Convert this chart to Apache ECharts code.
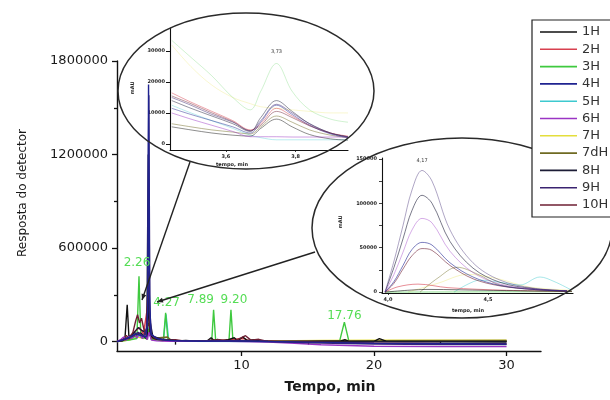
<!DOCTYPE html>
<html>
<head>
<meta charset="utf-8">
<script src="https://cdn.jsdelivr.net/npm/echarts@6/dist/echarts.min.js"></script>
<style>
html,body{margin:0;padding:0;background:#fff}
#c{width:610px;height:400px}
</style>
</head>
<body>
<div id="c"></div>
<script>
// Sample names and trace colours (legend order)
const names  = ['1H','2H','3H','4H','5H','6H','7H','7dH','8H','9H','10H'];
const colors = ['#111111','#d8404f','#3fc93f','#1f2390','#3ec9cf','#9a34c4','#e4de3c','#6f6a22','#1c1c36','#3a2370','#6e1f33'];

// Axis ticks and labels of the full chromatogram
const mainXLabels = [10, 20, 30];
const mainXMinor  = [5, 15, 25];
const mainYLabels = [0, 600000, 1200000, 1800000];
const mainYMinor  = [300000, 900000, 1500000];

// Full chromatograms: [tempo (min), resposta]
const chrom1H  = [[0.6,0],[1.0,5000],[1.2,20000],[1.37,237000],[1.5,30000],[1.7,40000],[1.9,60000],[2.1,45000],[2.4,55000],[2.7,30000],[2.88,15000],[2.98,300000],[3.08,40000],[3.4,20000],[3.8,12000],[4.3,8000],[4.8,12000],[5.2,5000],[5.8,8000],[6.5,3000],[7.4,4000],[7.7,25000],[7.95,6000],[8.2,15000],[8.5,4000],[9.0,12000],[9.45,25000],[9.7,5000],[10.1,30000],[10.4,8000],[11.0,12000],[11.4,3000],[12.5,2000],[15,1000],[17.5,4000],[17.8,12000],[18.1,2000],[20.0,2000],[20.4,20000],[20.9,3000],[24,1500],[30,1000]];
const chrom2H  = [[0.6,0],[1.2,10000],[1.6,25000],[2.0,70000],[2.3,90000],[2.6,50000],[2.95,250000],[3.1,40000],[3.5,15000],[4.5,8000],[6,4000],[8,6000],[10.2,20000],[10.6,5000],[12,3000],[20,4000],[30,4000]];
const chrom3H  = [[0.6,0],[1.5,10000],[2.1,20000],[2.26,420000],[2.4,30000],[2.8,20000],[3.0,80000],[3.2,15000],[4.1,6000],[4.27,185000],[4.45,6000],[6,3000],[7.75,4000],[7.89,205000],[8.05,4000],[9.05,5000],[9.2,205000],[9.35,5000],[12,2000],[17.4,3000],[17.76,125000],[18.1,3000],[22,2000],[30,2000]];
const chrom4H  = [[0.6,0],[1.2,15000],[1.6,30000],[2.0,50000],[2.4,40000],[2.8,30000],[2.92,200000],[2.98,1650000],[3.06,300000],[3.15,50000],[3.6,20000],[4.2,10000],[5,6000],[7,3000],[10,5000],[12,1000],[16,-5000],[20,-10000],[30,-15000]];
const chrom5H  = [[0.6,0],[1.5,15000],[2.2,40000],[2.6,25000],[3.0,90000],[3.2,15000],[4.1,8000],[4.3,175000],[4.5,8000],[6,3000],[12,1000],[20,5000],[30,6000]];
const chrom6H  = [[0.6,0],[0.9,15000],[1.1,30000],[1.3,10000],[1.5,35000],[1.7,20000],[1.9,45000],[2.1,25000],[2.3,50000],[2.5,20000],[2.7,40000],[2.9,15000],[3.0,60000],[3.2,10000],[3.6,5000],[4.5,3000],[6,2000],[9,3000],[12,-2000],[14,-10000],[16,-20000],[20,-30000],[25,-32000],[30,-32000]];
const chrom7H  = [[0.6,0],[1.5,10000],[2.2,30000],[2.6,20000],[3.0,60000],[3.3,10000],[5,4000],[12,4000],[16,8000],[20,10000],[25,10000],[30,10000]];
const chrom7dH = [[0.6,0],[1.6,20000],[2.2,50000],[2.6,30000],[3.0,120000],[3.2,20000],[4.4,30000],[4.7,8000],[6,3000],[12,2000],[16,4000],[20,6000],[30,7000]];
const chrom8H  = [[0.6,0],[1.4,25000],[1.8,50000],[2.2,90000],[2.5,70000],[2.85,60000],[2.96,1200000],[3.05,150000],[3.3,35000],[4,15000],[5,8000],[7,5000],[8,10000],[9,6000],[12,2000],[18,0],[30,-2000]];
const chrom9H  = [[0.6,0],[1.3,20000],[1.8,35000],[2.2,60000],[2.6,35000],[2.9,100000],[3.0,1580000],[3.08,200000],[3.2,40000],[3.7,18000],[4.5,8000],[6,5000],[9,4000],[12,1000],[15,-8000],[20,-15000],[25,-19000],[30,-19000]];
const chrom10H = [[0.6,0],[1.0,8000],[1.3,40000],[1.5,20000],[1.8,60000],[2.0,130000],[2.15,173000],[2.3,120000],[2.45,150000],[2.6,90000],[2.8,40000],[2.98,450000],[3.1,60000],[3.4,25000],[3.9,15000],[4.5,10000],[5.0,12000],[5.5,6000],[6.5,4000],[7.5,8000],[8.3,12000],[8.8,6000],[9.6,10000],[10.3,38000],[10.7,10000],[11.3,15000],[11.8,4000],[13,0],[16,-3000],[20,-8000],[25,-12000],[30,-13000]];

// Retention times marked on the 3H trace: [tempo, label height, label x shift]
const peakLabels = [[2.26, 506000, -2],[4.27, 250000, 1],[7.89, 269000, -13],[9.20, 269000, 3],[17.76, 166000, 0]];

// Detail A (around 3.7 min)
const zoomATime = [3.445, 3.5, 3.56, 3.62, 3.67, 3.70, 3.745, 3.79, 3.84, 3.90, 3.95];
const zoomA1H  = [5500, 4500, 3500, 2800, 2500, 5000, 8000, 5500, 3000, 1600, 1200];
const zoomA2H  = [16500, 13500, 10500, 7500, 4500, 6500, 11500, 9000, 6000, 3500, 2500];
const zoomA3H  = [33500, 28000, 22000, 15000, 11000, 17000, 26000, 17000, 11000, 8000, 7000];
const zoomA4H  = [11500, 9500, 7500, 5500, 3500, 7000, 12500, 9500, 6000, 3200, 2000];
const zoomA5H  = [12500, 10000, 7500, 5000, 2800, 2000, 1300, 1300, 1300, 1300, 1300];
const zoomA6H  = [10000, 8000, 6000, 4000, 2300, 2300, 2300, 2200, 2200, 2200, 2200];
const zoomA7H  = [32000, 25000, 19000, 15000, 13000, 12000, 11500, 11000, 10500, 10000, 10000];
const zoomA7dH = [6500, 5500, 4500, 3800, 3200, 5500, 9000, 7000, 4500, 2800, 2000];
const zoomA8H  = [14000, 11500, 9000, 6500, 4000, 8500, 14000, 10500, 6500, 3500, 2200];
const zoomA9H  = [15000, 12500, 9500, 7000, 4200, 7500, 12800, 10000, 6500, 3500, 2300];
const zoomA10H = [15500, 13000, 10000, 7200, 4300, 6000, 10500, 8500, 5800, 3400, 2300];
const zoomAPeak = [3.745, 29700, '3,73'];
const zoomAXLabels = [3.6, 3.8];
const zoomAYLabels = [0, 10000, 20000, 30000];

// Detail B (around 4.2 min)
const zoomBTime = [3.985, 4.03, 4.075, 4.12, 4.17, 4.22, 4.31, 4.425, 4.56, 4.725, 4.895];
const zoomB9H  = [0, 35000, 75000, 115000, 137000, 125000, 70000, 33000, 13500, 4500, 1500];
const zoomB8H  = [0, 28000, 60000, 92000, 109000, 100000, 57000, 27000, 11000, 4000, 1500];
const zoomB6H  = [0, 20000, 45000, 70000, 83000, 78000, 46000, 22000, 9000, 3500, 1500];
const zoomB4H  = [0, 12000, 30000, 48000, 56000, 53000, 33000, 17000, 7500, 3000, 1200];
const zoomB10H = [0, 10000, 26000, 41000, 49000, 47000, 30000, 15000, 7000, 3000, 1200];
const zoomB7dH = [[4.16,0],[4.25,16000],[4.345,28000],[4.45,20000],[4.56,8000],[4.76,2500],[4.91,1000]];
const zoomB5H  = [[4.33,0],[4.40,9000],[4.46,13500],[4.56,11000],[4.66,8000],[4.76,17000],[4.83,12000],[4.92,2000]];
const zoomB7H  = [[4.10,0],[4.25,10000],[4.40,20000],[4.55,15000],[4.70,6000],[4.92,2000]];
const zoomB1H  = [[3.985,0],[4.2,3000],[4.5,2000],[4.92,800]];
const zoomB2H  = [[3.985,0],[4.05,6000],[4.15,9000],[4.3,5000],[4.6,2000],[4.92,800]];
const zoomB3H  = [[3.985,0],[4.92,500]];
const zoomBPeak = [4.17, 147800, '4,17'];
const zoomBXLabels = [4.0, 4.5];
const zoomBYLabels = [0, 50000, 100000, 150000];
const zoomBYTicks  = [0, 25000, 50000, 75000, 100000, 125000, 150000];

const FONT = 'DejaVu Sans';
const colorOf = n => colors[names.indexOf(n)];
const pair = (ts, vs) => ts.map((t, i) => [t, vs[i]]);
const comma = v => String(v).replace('.', ',');
const plain = v => String(v);

const mainTraces = {
  '1H': chrom1H, '2H': chrom2H, '3H': chrom3H, '4H': chrom4H, '5H': chrom5H, '6H': chrom6H,
  '7H': chrom7H, '7dH': chrom7dH, '8H': chrom8H, '9H': chrom9H, '10H': chrom10H
};
// paler traces first, dark ones on top
const drawOrder = ['7H','5H','3H','2H','7dH','1H','8H','10H','6H','9H','4H'];

const series = [];
drawOrder.forEach(n => {
  const s = {
    type: 'line', name: n, data: mainTraces[n], xAxisIndex: 0, yAxisIndex: 0,
    showSymbol: false, symbol: 'none', silent: true,
    lineStyle: { width: 1.4, color: colorOf(n) }, itemStyle: { color: colorOf(n) }
  };
  if (n === '3H') {
    s.markPoint = {
      symbol: 'circle', symbolSize: 1, itemStyle: { color: 'rgba(0,0,0,0)' },
      label: { show: true, position: 'inside', color: '#55dd55', fontFamily: FONT, fontSize: 12, formatter: p => p.name },
      data: peakLabels.map(p => ({ name: p[0].toFixed(2), coord: [p[0], p[1]], label: { offset: [p[2], 0] } }))
    };
  }
  series.push(s);
});

const zoomA = { '1H': zoomA1H, '2H': zoomA2H, '3H': zoomA3H, '4H': zoomA4H, '5H': zoomA5H, '6H': zoomA6H,
  '7H': zoomA7H, '7dH': zoomA7dH, '8H': zoomA8H, '9H': zoomA9H, '10H': zoomA10H };
const paleA = { '3H': 0.3, '7H': 0.3, '5H': 0.45 };
drawOrder.forEach(n => {
  const s = {
    type: 'line', name: n, data: pair(zoomATime, zoomA[n]), xAxisIndex: 2, yAxisIndex: 2,
    showSymbol: false, symbol: 'none', smooth: 0.35, silent: true,
    lineStyle: { width: 0.8, color: colorOf(n), opacity: paleA[n] || 0.6 }
  };
  if (n === '3H') {
    s.markPoint = {
      symbol: 'circle', symbolSize: 1, itemStyle: { color: 'rgba(0,0,0,0)' },
      label: { show: true, position: 'inside', color: '#333', fontFamily: FONT, fontSize: 5, formatter: p => p.name },
      data: [{ name: zoomAPeak[2], coord: [zoomAPeak[0], zoomAPeak[1]] }]
    };
  }
  series.push(s);
});

const zoomB = {
  '9H': pair(zoomBTime, zoomB9H), '8H': pair(zoomBTime, zoomB8H), '6H': pair(zoomBTime, zoomB6H),
  '4H': pair(zoomBTime, zoomB4H), '10H': pair(zoomBTime, zoomB10H),
  '7dH': zoomB7dH, '5H': zoomB5H, '7H': zoomB7H, '1H': zoomB1H, '2H': zoomB2H, '3H': zoomB3H
};
const paleB = { '9H': 0.45, '6H': 0.45, '7H': 0.35, '5H': 0.5, '7dH': 0.5 };
drawOrder.forEach(n => {
  const s = {
    type: 'line', name: n, data: zoomB[n], xAxisIndex: 3, yAxisIndex: 3,
    showSymbol: false, symbol: 'none', smooth: 0.35, silent: true,
    lineStyle: { width: 0.9, color: colorOf(n), opacity: paleB[n] || 0.65 }
  };
  if (n === '9H') {
    s.markPoint = {
      symbol: 'circle', symbolSize: 1, itemStyle: { color: 'rgba(0,0,0,0)' },
      label: { show: true, position: 'inside', color: '#333', fontFamily: FONT, fontSize: 5, formatter: p => p.name },
      data: [{ name: zoomBPeak[2], coord: [zoomBPeak[0], zoomBPeak[1]] }]
    };
  }
  series.push(s);
});

const axisLine = w => ({ show: true, onZero: false, lineStyle: { color: '#111', width: w } });

// decorations: magnifier ellipses, pointer lines and titles
function arrow(x1, y1, x2, y2) {
  const dx = x1 - x2, dy = y1 - y2, L = Math.hypot(dx, dy);
  const ux = dx / L, uy = dy / L, px = -uy, py = ux;
  const bx = x1 - ux * 6, by = y1 - uy * 6;
  return [
    { type: 'line', z: 6, shape: { x1, y1, x2, y2 }, style: { stroke: '#222', lineWidth: 1.4 } },
    { type: 'polygon', z: 6, shape: { points: [[x1, y1], [bx + px * 2.5, by + py * 2.5], [bx - px * 2.5, by - py * 2.5]] }, style: { fill: '#222' } }
  ];
}
function label(text, x, y, size, rot, weight, color) {
  return { type: 'text', z: 6, x, y, rotation: rot || 0,
    style: { text, fill: color || '#222', font: (weight || 'normal') + ' ' + size + 'px "' + FONT + '"', align: 'center', verticalAlign: 'middle' } };
}

const graphics = [
  { type: 'ellipse', z: 5, shape: { cx: 246, cy: 91, rx: 128, ry: 78 }, style: { fill: null, stroke: '#2a2a2a', lineWidth: 1.5 } },
  { type: 'ellipse', z: 5, shape: { cx: 462, cy: 228, rx: 150, ry: 90 }, style: { fill: null, stroke: '#2a2a2a', lineWidth: 1.5 } },
  ...arrow(142, 300, 190, 162),
  ...arrow(157, 302, 315, 252),
  label('Tempo, min', 330, 387, 14, 0, 'bold', '#1a1a1a'),
  label('Resposta do detector', 23, 193, 12, Math.PI / 2, 'normal', '#1a1a1a'),
  label('mAU', 133, 88, 5, Math.PI / 2, 'bold'),
  label('tempo, min', 232, 165, 5, 0, 'bold'),
  label('mAU', 341, 222, 5, Math.PI / 2, 'bold'),
  label('tempo, min', 468, 311, 5, 0, 'bold')
];

const option = {
  animation: false,
  backgroundColor: '#fff',
  textStyle: { fontFamily: FONT },
  grid: [
    { left: 117, top: 61, width: 424, height: 290, outerBoundsMode: 'none', containLabel: false },
    { left: 170, top: 28, width: 178, height: 122, outerBoundsMode: 'none', containLabel: false },
    { left: 382, top: 158, width: 191, height: 135, outerBoundsMode: 'none', containLabel: false }
  ],
  xAxis: [
    { type: 'value', gridIndex: 0, position: 'bottom', min: 0.6, max: 32.6, axisLine: axisLine(1.4),
      axisTick: { show: true, inside: false, length: 5, customValues: mainXLabels, lineStyle: { color: '#111', width: 1.3 } },
      axisLabel: { show: true, customValues: mainXLabels, margin: 8, color: '#1a1a1a', fontFamily: FONT, fontSize: 13, formatter: plain },
      splitLine: { show: false } },
    { type: 'value', gridIndex: 0, position: 'bottom', min: 0.6, max: 32.6, axisLine: { show: false },
      axisTick: { show: true, inside: false, length: 3, customValues: mainXMinor, lineStyle: { color: '#111', width: 1.3 } },
      axisLabel: { show: false }, splitLine: { show: false } },
    { type: 'value', gridIndex: 1, position: 'bottom', min: 3.44, max: 3.95, axisLine: axisLine(1.1),
      axisTick: { show: true, inside: false, length: 2, customValues: zoomAXLabels, lineStyle: { color: '#111', width: 0.8 } },
      axisLabel: { show: true, customValues: zoomAXLabels, margin: 4, color: '#222', fontFamily: FONT, fontSize: 5, fontWeight: 'bold', formatter: v => comma(v.toFixed(1)) },
      splitLine: { show: false } },
    { type: 'value', gridIndex: 2, position: 'bottom', min: 3.97, max: 4.925, axisLine: axisLine(1.1),
      axisTick: { show: true, inside: false, length: 2, customValues: zoomBXLabels, lineStyle: { color: '#111', width: 0.8 } },
      axisLabel: { show: true, customValues: zoomBXLabels, margin: 4, color: '#222', fontFamily: FONT, fontSize: 5, fontWeight: 'bold', formatter: v => comma(v.toFixed(1)) },
      splitLine: { show: false } }
  ],
  yAxis: [
    { type: 'value', gridIndex: 0, position: 'left', min: -60000, max: 1800000, axisLine: axisLine(1.4),
      axisTick: { show: true, inside: false, length: 5, customValues: mainYLabels, lineStyle: { color: '#111', width: 1.3 } },
      axisLabel: { show: true, customValues: mainYLabels, margin: 9, color: '#1a1a1a', fontFamily: FONT, fontSize: 13, formatter: plain },
      splitLine: { show: false } },
    { type: 'value', gridIndex: 0, position: 'left', min: -60000, max: 1800000, axisLine: { show: false },
      axisTick: { show: true, inside: false, length: 3, customValues: mainYMinor, lineStyle: { color: '#111', width: 1.3 } },
      axisLabel: { show: false }, splitLine: { show: false } },
    { type: 'value', gridIndex: 1, position: 'left', min: -2000, max: 37500, axisLine: axisLine(1.1),
      axisTick: { show: true, inside: false, length: 4, customValues: zoomAYLabels, lineStyle: { color: '#111', width: 1 } },
      axisLabel: { show: true, customValues: zoomAYLabels, margin: 5, color: '#222', fontFamily: FONT, fontSize: 5, fontWeight: 'bold', formatter: plain },
      splitLine: { show: false } },
    { type: 'value', gridIndex: 2, position: 'left', min: -1000, max: 151000, axisLine: axisLine(1.1),
      axisTick: { show: true, inside: false, length: 3, customValues: zoomBYTicks, lineStyle: { color: '#111', width: 0.8 } },
      axisLabel: { show: true, customValues: zoomBYLabels, margin: 5, color: '#222', fontFamily: FONT, fontSize: 5, fontWeight: 'bold', formatter: plain },
      splitLine: { show: false } }
  ],
  legend: {
    show: true, z: 20, zlevel: 0, orient: 'vertical', left: 532, top: 20,
    padding: [5, 8, 5, 8], itemGap: 3.3, itemWidth: 37, itemHeight: 1.6, itemTextGap: 5,
    icon: 'rect', selectedMode: false,
    backgroundColor: '#fff', borderColor: '#222', borderWidth: 1.2, borderRadius: 0,
    textStyle: { color: '#333', fontFamily: FONT, fontSize: 13, lineHeight: 14 },
    data: names
  },
  graphic: { elements: graphics },
  series
};

const chart = echarts.init(document.getElementById('c'), null, { renderer: 'canvas' });
chart.setOption(option);
</script>
</body>
</html>
